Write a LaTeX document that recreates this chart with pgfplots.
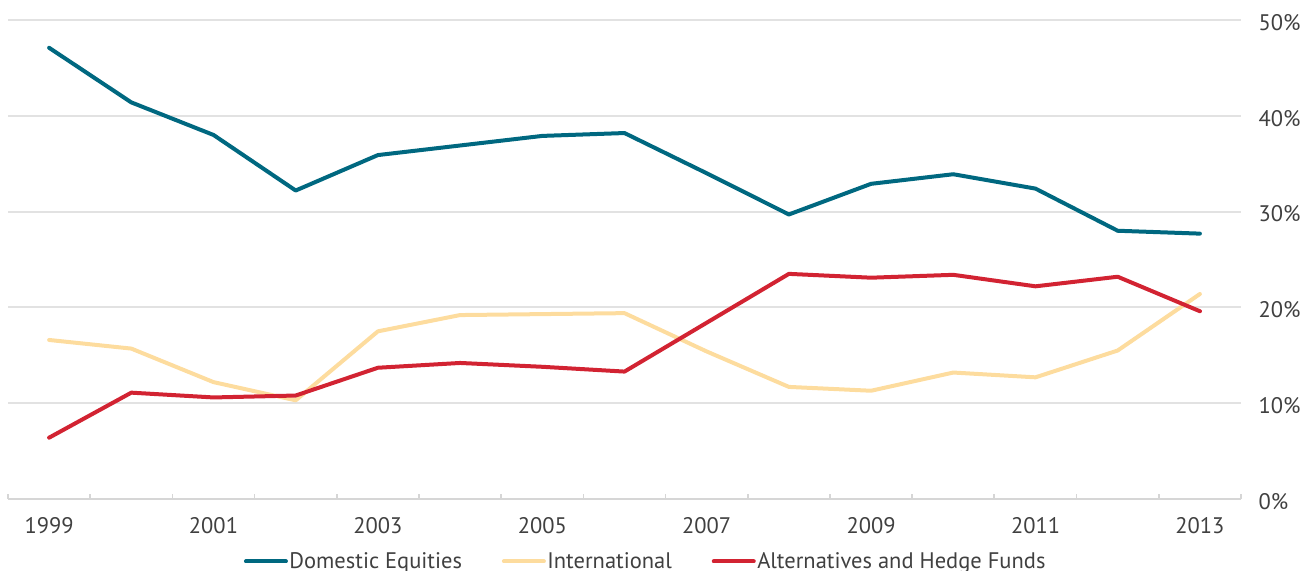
\documentclass[border=0pt]{standalone}
\usepackage{fontspec}
\setmainfont{PT Sans}
\usepackage{pgfplots}
\pgfplotsset{compat=1.18}

\definecolor{domestic}{RGB}{0,104,128}
\definecolor{intl}{RGB}{253,220,158}
\definecolor{alts}{RGB}{210,35,50}
\definecolor{gridgray}{RGB}{226,226,226}
\definecolor{axisgray}{RGB}{214,214,214}
\definecolor{txt}{RGB}{64,64,64}

\newcommand{\chartfont}{\fontsize{13.5}{16}\selectfont}

\begin{document}
\begin{tikzpicture}
\begin{axis}[
  scale only axis,
  width=739.8pt, height=287.4pt,
  xmin=1998.5, xmax=2013.5,
  ymin=0, ymax=50,
  axis x line*=bottom,
  axis y line*=right,
  x axis line style={axisgray, line width=1.2pt},
  y axis line style={draw=none},
  ymajorgrids,
  major grid style={gridgray, line width=1.2pt},
  ytick={0,10,20,30,40,50},
  xtick={1999,2001,...,2013},
  major tick length=0pt,
  extra x ticks={1998.5,1999.5,...,2013.5},
  extra x tick labels={},
  extra x tick style={tick align=inside, major tick length=3pt,
    tick style={axisgray, line width=1pt}},
  /pgf/number format/assume math mode=true,
  /pgf/number format/1000 sep={},
  tick label style={font=\chartfont, text=txt},
  xticklabel style={yshift=-7.5pt},
  yticklabel style={anchor=west, xshift=7pt, yshift=-1.5pt},
  yticklabel={\pgfmathprintnumber{\tick}\%},
  legend columns=3,
  legend style={at={(axis description cs:0.517,0)}, anchor=center,
    yshift=-37.5pt, draw=none, fill=none, font=\chartfont, text=txt,
    nodes={inner xsep=0.9pt},
    /tikz/every even column/.append style={column sep=23pt}},
  legend cell align=left,
  legend image code/.code={\draw[#1, line width=2.4pt, line cap=round] (0pt,0pt) -- (24pt,0pt);},
  every axis plot/.append style={line width=2.4pt, line join=round, line cap=round, mark=none},
]
\addplot[domestic] coordinates {
  (1999,47.1) (2000,41.4) (2001,38.0) (2002,32.2) (2003,35.9)
  (2004,36.9) (2005,37.9) (2006,38.2) (2007,34.0) (2008,29.7)
  (2009,32.9) (2010,33.9) (2011,32.4) (2012,28.0) (2013,27.7)};
\addlegendentry{Domestic Equities}
\addplot[intl] coordinates {
  (1999,16.6) (2000,15.7) (2001,12.2) (2002,10.3) (2003,17.5)
  (2004,19.2) (2005,19.3) (2006,19.4) (2007,15.4) (2008,11.7)
  (2009,11.3) (2010,13.2) (2011,12.7) (2012,15.5) (2013,21.4)};
\addlegendentry{International}
\addplot[alts] coordinates {
  (1999,6.4) (2000,11.1) (2001,10.6) (2002,10.8) (2003,13.7)
  (2004,14.2) (2005,13.8) (2006,13.3) (2007,18.4) (2008,23.5)
  (2009,23.1) (2010,23.4) (2011,22.2) (2012,23.2) (2013,19.6)};
\addlegendentry{Alternatives and Hedge Funds}
\coordinate (bl) at (rel axis cs:0,0);
\coordinate (tr) at (rel axis cs:1,1);
\end{axis}
\pgfresetboundingbox
\path[use as bounding box] ([shift={(-4.8pt,-43.2pt)}]bl) rectangle ([shift={(43.2pt,12pt)}]tr);
\end{tikzpicture}
\end{document}
